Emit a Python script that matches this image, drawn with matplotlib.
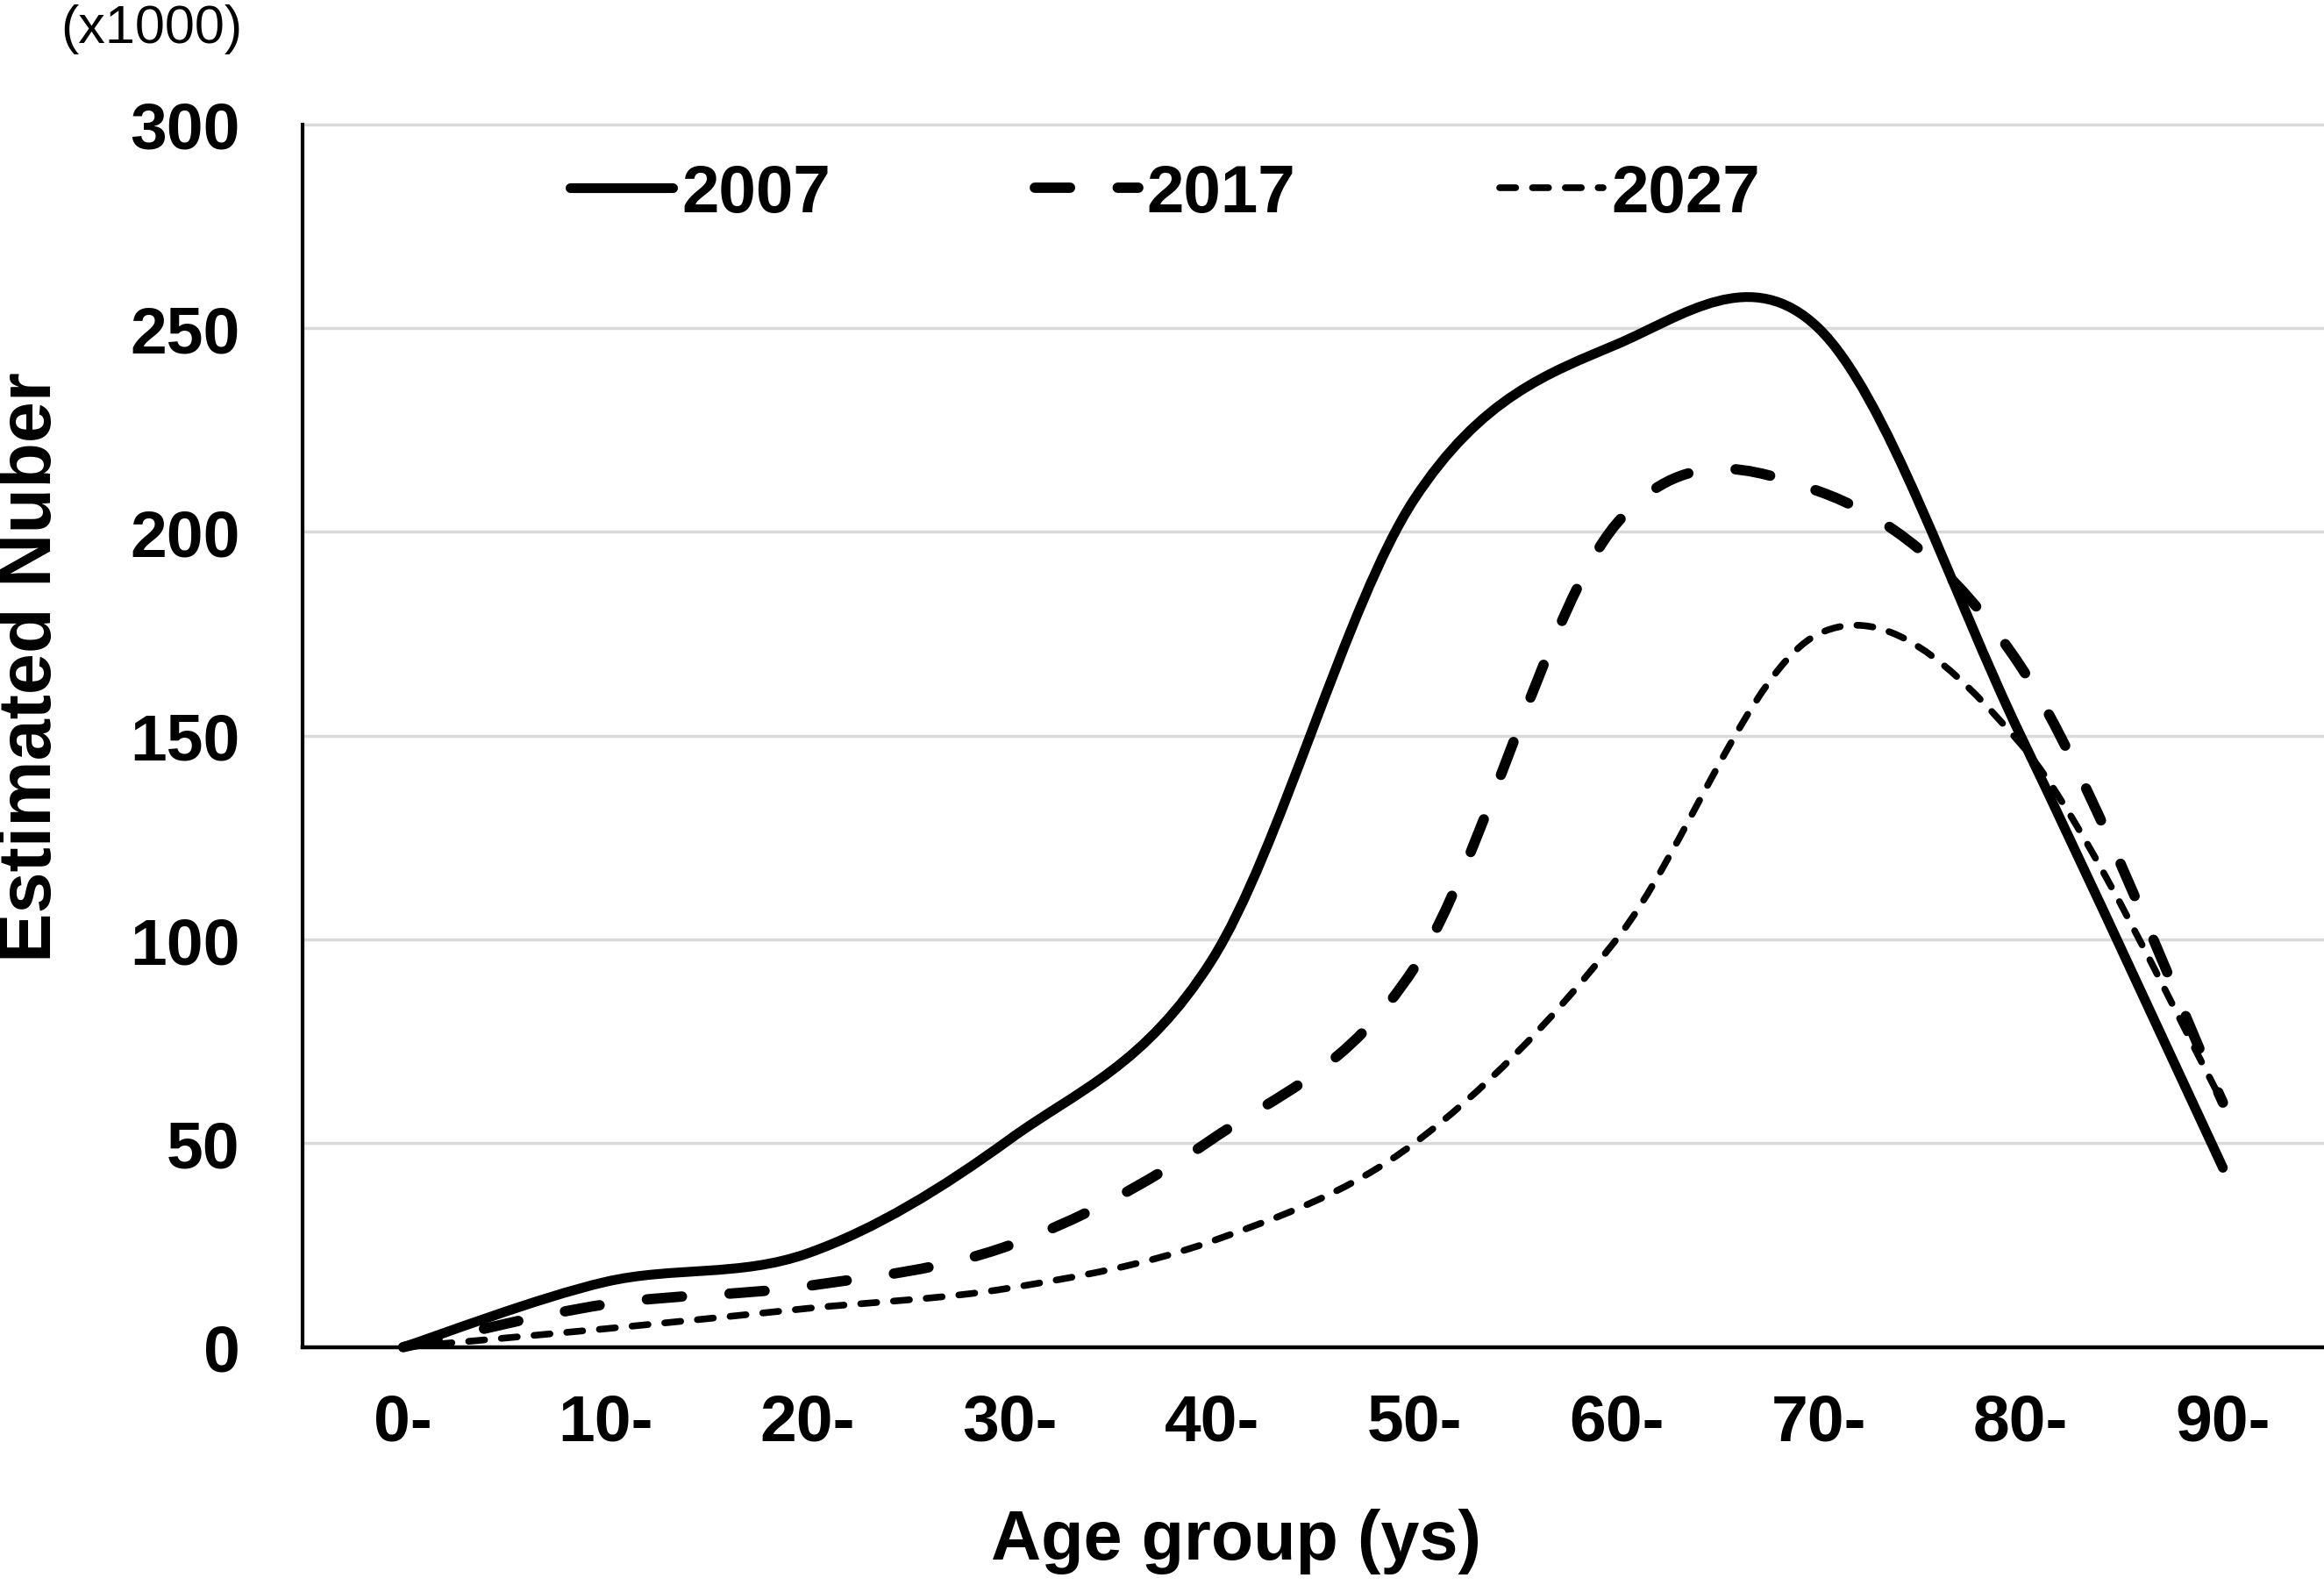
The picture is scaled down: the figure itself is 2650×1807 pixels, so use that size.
import matplotlib
matplotlib.use("Agg")
import matplotlib.pyplot as plt
import numpy as np
from matplotlib.patches import PathPatch
from matplotlib.path import Path

# ---------------- data (x1000 persons) ----------------
age_groups = ["0-", "10-", "20-", "30-", "40-", "50-", "60-", "70-", "80-", "90-"]
series_names = ["2007", "2017", "2027"]
n_2007 = [0, 16, 23, 51, 95, 208, 246, 250, 150, 44]
n_2017 = [0, 10.5, 15, 25, 51, 93, 202, 210, 167, 60]
n_2027 = [0, 4.5, 9.5, 14.5, 26, 50, 100, 175, 148, 60]
y_ticks = [0, 50, 100, 150, 200, 250, 300]

plt.rcParams["font.family"] = ["Liberation Sans", "DejaVu Sans"]


def smooth_path(x, y):
    # Excel-style smoothed line: Catmull-Rom segments as cubic Beziers
    pts = np.column_stack([x, y]).astype(float)
    padded = np.vstack([pts[:1], pts, pts[-1:]])
    verts = [pts[0]]
    codes = [Path.MOVETO]
    for i in range(len(pts) - 1):
        p0, p1, p2, p3 = padded[i], padded[i + 1], padded[i + 2], padded[i + 3]
        verts += [p1 + (p2 - p0) / 6.0, p2 - (p3 - p1) / 6.0, p2]
        codes += [Path.CURVE4] * 3
    return Path(verts, codes)


fig = plt.figure(figsize=(26.5, 18.08), dpi=100)
ax = fig.add_axes([0.130, 0.150, 0.870, 0.771])

styles = [
    dict(lw=8.0, ls="-"),
    dict(lw=8.5, ls=(0, (3.4, 4.6))),
    dict(lw=5.5, ls=(0, (2.4, 2.5))),
]
x = np.arange(len(age_groups))
for name, vals, st in zip(series_names, [n_2007, n_2017, n_2027], styles):
    patch = PathPatch(smooth_path(x, vals), fill=False, edgecolor="black",
                      lw=st["lw"], ls=st["ls"], capstyle="round",
                      joinstyle="round", clip_on=False, zorder=3)
    ax.add_patch(patch)
    ax.plot([], [], color="black", lw=st["lw"], ls=st["ls"],
            dash_capstyle="round", solid_capstyle="round", label=name)

ax.set_xlim(-0.5, len(age_groups) - 0.5)
ax.set_ylim(0, 300)
ax.set_xticks(x)
ax.set_xticklabels(age_groups)
ax.set_yticks(y_ticks)

ax.tick_params(axis="both", length=0, labelsize=54)
ax.tick_params(axis="x", pad=37)
ax.tick_params(axis="y", pad=51)
for lab in ax.get_xticklabels() + ax.get_yticklabels():
    lab.set_fontweight("bold")

ax.grid(axis="y", color="#d9d9d9", lw=2.5)
for gl in ax.get_ygridlines():
    gl.set_clip_on(False)
ax.set_axisbelow(True)

for side in ["top", "right"]:
    ax.spines[side].set_visible(False)
ax.spines["left"].set_linewidth(3.0)
ax.spines["bottom"].set_linewidth(3.2)

ax.set_xlabel("Age group (ys)", fontsize=57, fontweight="bold", va="center")
ax.xaxis.set_label_coords(0.462, -0.1585)
ax.set_ylabel("Estimated Nuber", fontsize=61, fontweight="bold", va="center")
ax.yaxis.set_label_coords(-0.1336, 0.557)

fig.text(173 / 2650, 1 - 34 / 1808, "(x1000)", fontsize=44,
         ha="center", va="center")

leg = ax.legend(loc="center left", bbox_to_anchor=(0.1323, 0.943), ncol=3,
                frameon=False, borderpad=0, borderaxespad=0,
                handlelength=1.54, handletextpad=0.13, columnspacing=3.05,
                prop={"size": 55, "weight": "bold"})

fig.savefig("out.png", dpi=100)
